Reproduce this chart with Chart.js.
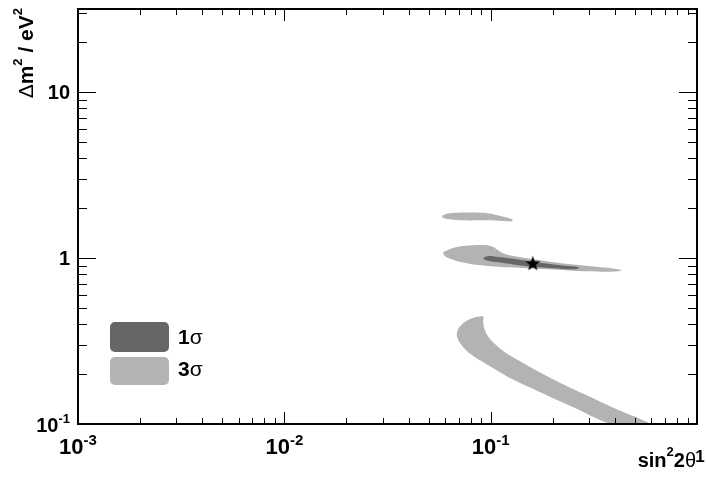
<!DOCTYPE html>
<html>
<head>
<meta charset="utf-8">
<script src="https://cdn.jsdelivr.net/npm/chart.js@4.4.1/dist/chart.umd.min.js"></script>
<style>
  html, body { margin: 0; padding: 0; background: #fff; }
  #wrap { width: 706px; height: 479px; position: relative; }
</style>
</head>
<body>
<div id="wrap"><canvas id="allowedChart"></canvas></div>
<script>
// allowed regions in (sin^2 2theta, dm^2)
const island3s = [
    [0.058, 1.79], [0.0606, 1.84], [0.0663, 1.87], [0.0783, 1.88], [0.0925, 1.87],
    [0.1034, 1.83], [0.1156, 1.77], [0.1277, 1.70], [0.1263, 1.66], [0.1093, 1.675],
    [0.0925, 1.686], [0.0741, 1.686], [0.0627, 1.71], [0.0586, 1.745], [0.058, 1.79]
];
const band3s = [
    [0.0586, 1.079], [0.0627, 1.124], [0.0685, 1.163], [0.0783, 1.187], [0.0925, 1.196],
    [0.1, 1.179], [0.1057, 1.139], [0.113, 1.079], [0.1249, 1.035], [0.1526, 0.993],
    [0.1906, 0.953], [0.238, 0.921], [0.2975, 0.896], [0.3715, 0.872], [0.4246, 0.848],
    [0.4294, 0.837], [0.3715, 0.825], [0.2975, 0.831], [0.238, 0.842], [0.1906, 0.854],
    [0.1526, 0.866], [0.1222, 0.878], [0.0978, 0.896], [0.0828, 0.915], [0.0716, 0.946],
    [0.0641, 0.986], [0.05995, 1.028], [0.0586, 1.079]
];
const lower3s = [
    [0.0905, 0.447], [0.0818, 0.435], [0.0749, 0.412], [0.070, 0.379], [0.0685, 0.345],
    [0.0708, 0.309], [0.0783, 0.269], [0.0925, 0.2345], [0.1093, 0.207], [0.1263, 0.187],
    [0.1706, 0.157], [0.2518, 0.126], [0.385, 0.1], [0.585, 0.1], [0.406, 0.123],
    [0.278, 0.153], [0.197, 0.188], [0.1396, 0.238], [0.1182, 0.269], [0.1045, 0.3045],
    [0.0967, 0.340], [0.093, 0.379], [0.092, 0.418], [0.0925, 0.441], [0.0905, 0.447]
];
const core1s = [
    [0.0915, 1.0], [0.0978, 1.028], [0.1093, 1.014], [0.1365, 0.98], [0.1706, 0.94],
    [0.2131, 0.908], [0.2603, 0.884], [0.2692, 0.866], [0.2518, 0.854], [0.2015, 0.866],
    [0.1613, 0.884], [0.1291, 0.915], [0.1069, 0.946], [0.0957, 0.966], [0.0915, 1.0]
];
const bestFit = [[0.16, 0.923]];

const xRange = [1e-3, 1];
const yRange = [0.1, 31.6];
const xMajor = [1e-3, 1e-2, 1e-1, 1];
const xLabels = [["10", "-3"], ["10", "-2"], ["10", "-1"], ["1", ""]];
const yMajor = [0.1, 1, 10];
const yLabels = [["10", "-1"], ["1", ""], ["10", ""]];
const legendLabels = ["1", "3"];

const DARK = "#666666";
const LIGHT = "#b3b3b3";
const FONT = "'Liberation Sans', Arial, sans-serif";

const toPts = arr => arr.map(p => ({ x: p[0], y: p[1] }));

function contour(points, color) {
    return {
        data: toPts(points),
        showLine: true,
        fill: "shape",
        backgroundColor: color,
        borderColor: "rgba(0,0,0,0)",
        borderWidth: 0,
        pointRadius: 0,
        tension: 0.3
    };
}

function starImage(r) {
    const c = document.createElement("canvas");
    const s = Math.ceil(r * 2 + 2);
    c.width = s; c.height = s;
    const g = c.getContext("2d");
    g.fillStyle = "#000";
    g.beginPath();
    for (let i = 0; i < 10; i++) {
        const rad = i % 2 ? r * 0.4 : r;
        const ang = -Math.PI / 2 + i * Math.PI / 5;
        g.lineTo(s / 2 + rad * Math.cos(ang), s / 2 + rad * Math.sin(ang));
    }
    g.closePath();
    g.fill();
    return c;
}

// draw text pieces [text, font, rise] one after another
function drawRun(ctx, pieces, x, y, align) {
    let total = 0;
    pieces.forEach(p => { ctx.font = p[1]; total += ctx.measureText(p[0]).width; });
    let left = x;
    if (align === "center") left = x - total / 2;
    if (align === "right") left = x - total;
    ctx.textAlign = "left";
    ctx.textBaseline = "alphabetic";
    pieces.forEach(p => {
        ctx.font = p[1];
        ctx.fillText(p[0], left, y - (p[2] || 0));
        left += ctx.measureText(p[0]).width;
    });
}

function roundBox(ctx, x, y, w, h, r) {
    ctx.beginPath();
    ctx.moveTo(x + r, y);
    ctx.arcTo(x + w, y, x + w, y + h, r);
    ctx.arcTo(x + w, y + h, x, y + h, r);
    ctx.arcTo(x, y + h, x, y, r);
    ctx.arcTo(x, y, x + w, y, r);
    ctx.closePath();
    ctx.fill();
}

const rootFrame = {
    id: "rootFrame",
    afterDraw(chart) {
        const { ctx, chartArea: a, scales: { x, y } } = chart;
        ctx.save();
        ctx.strokeStyle = "#000";
        ctx.fillStyle = "#000";

        // ticks, inside on all four sides
        ctx.lineWidth = 1;
        ctx.beginPath();
        for (let d = xRange[0]; d < xRange[1] * 0.99; d *= 10) {
            for (let k = 1; k <= 9; k++) {
                const px = Math.round(x.getPixelForValue(k * d)) + 0.5;
                const len = k === 1 ? 12 : 6;
                ctx.moveTo(px, a.bottom); ctx.lineTo(px, a.bottom - len);
                ctx.moveTo(px, a.top); ctx.lineTo(px, a.top + len);
            }
        }
        for (let d = yRange[0]; d < yRange[1]; d *= 10) {
            for (let k = 1; k <= 9; k++) {
                if (k * d > yRange[1]) break;
                const py = Math.round(y.getPixelForValue(k * d)) + 0.5;
                const len = k === 1 ? 18 : 9;
                ctx.moveTo(a.left, py); ctx.lineTo(a.left + len, py);
                ctx.moveTo(a.right, py); ctx.lineTo(a.right - len, py);
            }
        }
        ctx.stroke();

        ctx.lineWidth = 2;
        ctx.strokeRect(a.left, a.top, a.right - a.left, a.bottom - a.top);

        // tick labels
        xMajor.forEach((v, i) => {
            const px = x.getPixelForValue(v);
            const [b, e] = xLabels[i];
            if (e) {
                drawRun(ctx, [[b, "bold 22px " + FONT, 0], [e, "bold 15px " + FONT, 9]], px, 454, "center");
            } else {
                drawRun(ctx, [[b, "bold 17px " + FONT, 0]], px + 3, 462, "center");
            }
        });
        yMajor.forEach((v, i) => {
            const py = y.getPixelForValue(v);
            const [b, e] = yLabels[i];
            const pieces = [[b, "bold 20px " + FONT, 0]];
            if (e) pieces.push([e, "bold 13px " + FONT, 8.7]);
            drawRun(ctx, pieces, 70, py + 7.5, "right");
        });

        // axis titles
        drawRun(ctx, [
            ["sin", "bold 20px " + FONT, 0],
            ["2", "bold 13px " + FONT, 11],
            ["2", "bold 20px " + FONT, 0],
            ["\u03b8", "20px " + FONT, 0]
        ], 696, 467, "right");

        ctx.save();
        ctx.translate(33, 8);
        ctx.rotate(-Math.PI / 2);
        drawRun(ctx, [
            ["\u0394", "21px " + FONT, 0],
            ["m", "bold 21px " + FONT, 0],
            ["2", "bold 13px " + FONT, 11],
            [" / eV", "bold 21px " + FONT, 0],
            ["2", "bold 13px " + FONT, 11]
        ], 0, 0, "right");
        ctx.restore();

        // legend
        ctx.fillStyle = DARK;
        roundBox(ctx, 110, 322, 59, 30, 5);
        ctx.fillStyle = LIGHT;
        roundBox(ctx, 110, 357, 59, 28, 5);
        ctx.fillStyle = "#000";
        drawRun(ctx, [[legendLabels[0], "bold 21px " + FONT, 0], ["\u03c3", "21px " + FONT, 0]], 178, 344, "left");
        drawRun(ctx, [[legendLabels[1], "bold 21px " + FONT, 0], ["\u03c3", "21px " + FONT, 0]], 178, 376, "left");

        ctx.restore();
    }
};

new Chart(document.getElementById("allowedChart"), {
    type: "scatter",
    data: {
        datasets: [
            { data: toPts(bestFit), pointStyle: starImage(8), pointRadius: 8, showLine: false },
            contour(core1s, DARK),
            contour(band3s, LIGHT),
            contour(island3s, LIGHT),
            contour(lower3s, LIGHT)
        ]
    },
    options: {
        responsive: true,
        maintainAspectRatio: false,
        animation: false,
        events: [],
        layout: { padding: { left: 78, right: 7, top: 7, bottom: 55 } },
        plugins: { legend: { display: false }, tooltip: { enabled: false } },
        scales: {
            x: { type: "logarithmic", min: xRange[0], max: xRange[1], display: false },
            y: { type: "logarithmic", min: yRange[0], max: yRange[1], display: false }
        }
    },
    plugins: [rootFrame]
});
</script>
</body>
</html>
